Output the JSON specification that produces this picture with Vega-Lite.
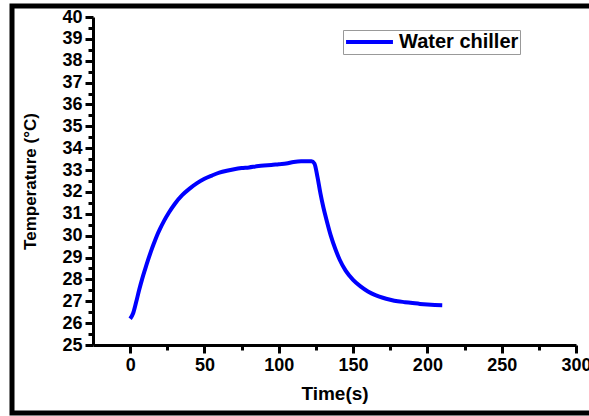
{
  "$schema": "https://vega.github.io/schema/vega-lite/v6.json",
  "autosize": {"type": "none"},
  "padding": {"left": 93, "top": 17, "right": 13, "bottom": 71},
  "width": 483,
  "height": 328,
  "background": "white",
  "config": {
    "view": {"stroke": null},
    "font": "Liberation Sans"
  },
  "resolve": {"axis": {"y": "independent"}},
  "layer": [
    {
      "data": {
        "values": [
          {"t": 0, "T": 26.2}, {"t": 2, "T": 26.45}, {"t": 4, "T": 26.95}, {"t": 6, "T": 27.5},
          {"t": 8, "T": 28.0}, {"t": 10, "T": 28.45}, {"t": 12, "T": 28.88}, {"t": 14, "T": 29.28},
          {"t": 16, "T": 29.65}, {"t": 18, "T": 30.0}, {"t": 20, "T": 30.3}, {"t": 23, "T": 30.7},
          {"t": 26, "T": 31.05}, {"t": 30, "T": 31.45}, {"t": 35, "T": 31.85}, {"t": 40, "T": 32.15},
          {"t": 45, "T": 32.4}, {"t": 50, "T": 32.6}, {"t": 55, "T": 32.75}, {"t": 60, "T": 32.88},
          {"t": 65, "T": 32.97}, {"t": 70, "T": 33.04}, {"t": 75, "T": 33.09},
          {"t": 80, "T": 33.12}, {"t": 85, "T": 33.17}, {"t": 90, "T": 33.21}, {"t": 95, "T": 33.23},
          {"t": 100, "T": 33.27}, {"t": 105, "T": 33.3}, {"t": 110, "T": 33.37}, {"t": 115, "T": 33.4},
          {"t": 120, "T": 33.4}, {"t": 122, "T": 33.4}, {"t": 124, "T": 33.3}, {"t": 126, "T": 32.7},
          {"t": 128, "T": 31.95}, {"t": 130, "T": 31.3}, {"t": 132, "T": 30.75}, {"t": 135, "T": 30.0},
          {"t": 138, "T": 29.4}, {"t": 141, "T": 28.9}, {"t": 145, "T": 28.4}, {"t": 150, "T": 27.98},
          {"t": 155, "T": 27.68}, {"t": 160, "T": 27.45}, {"t": 165, "T": 27.28}, {"t": 170, "T": 27.16},
          {"t": 175, "T": 27.07}, {"t": 180, "T": 27.0}, {"t": 185, "T": 26.96}, {"t": 190, "T": 26.92},
          {"t": 195, "T": 26.88}, {"t": 200, "T": 26.85}, {"t": 205, "T": 26.83}, {"t": 210, "T": 26.82}
        ]
      },
      "transform": [{"calculate": "'Water chiller'", "as": "series"}],
      "mark": {"type": "line", "strokeWidth": 4, "interpolate": "monotone"},
      "encoding": {
        "x": {
          "field": "t", "type": "quantitative",
          "scale": {"domain": [-25, 300], "nice": false, "zero": false},
          "axis": {
            "title": "Time(s)",
            "values": [0, 25, 50, 75, 100, 125, 150, 175, 200, 225, 250, 275, 300],
            "labelExpr": "datum.value % 50 === 0 ? datum.label : ''",
            "grid": false,
            "domainColor": "black", "domainWidth": 3,
            "tickColor": "black", "tickWidth": 3,
            "tickSize": {"condition": {"test": "datum.value % 50 === 0", "value": 8}, "value": 5},
            "labelFontSize": 18, "labelFontWeight": "bold", "labelColor": "black",
            "labelPadding": 3, "labelFlush": false, "labelOverlap": false,
            "titleFontSize": 19, "titleFontWeight": "bold", "titleColor": "black",
            "titlePadding": 10
          }
        },
        "y": {
          "field": "T", "type": "quantitative",
          "scale": {"domain": [25, 40], "nice": false, "zero": false},
          "axis": {
            "title": "Temperature (°C)",
            "orient": "left",
            "values": [25, 26, 27, 28, 29, 30, 31, 32, 33, 34, 35, 36, 37, 38, 39, 40],
            "grid": false,
            "domainColor": "black", "domainWidth": 3,
            "tickColor": "black", "tickWidth": 3, "tickSize": 8,
            "labelFontSize": 18, "labelFontWeight": "bold", "labelColor": "black",
            "labelPadding": 3, "labelFlush": false, "labelOverlap": false,
            "titleFontSize": 17, "titleFontWeight": "bold", "titleColor": "black",
            "titlePadding": 22
          }
        },
        "color": {
          "field": "series", "type": "nominal",
          "scale": {"domain": ["Water chiller"], "range": ["#0000ff"]},
          "legend": {
            "title": null,
            "orient": "none",
            "legendX": 250,
            "legendY": 13,
            "symbolType": "stroke",
            "symbolSize": 2200,
            "symbolStrokeWidth": 4,
            "clipHeight": 22,
            "labelFontSize": 20,
            "labelFontWeight": "bold",
            "labelColor": "black",
            "labelOffset": 4,
            "strokeColor": "#999999",
            "padding": 1
          }
        }
      }
    },
    {
      "data": {"values": [{"frame": 1}]},
      "mark": {"type": "rect", "fill": null, "stroke": "black", "strokeWidth": 5, "clip": false},
      "encoding": {
        "x": {"datum": -79.5, "type": "quantitative"},
        "x2": {"datum": 330},
        "y": {
          "datum": 40.5, "type": "quantitative",
          "axis": {
            "orient": "left",
            "title": null,
            "values": [25.5, 26.5, 27.5, 28.5, 29.5, 30.5, 31.5, 32.5, 33.5, 34.5, 35.5, 36.5, 37.5, 38.5, 39.5],
            "labels": false,
            "domain": false,
            "grid": false,
            "tickColor": "black", "tickWidth": 3, "tickSize": 5
          }
        },
        "y2": {"datum": 21.89}
      }
    }
  ]
}
